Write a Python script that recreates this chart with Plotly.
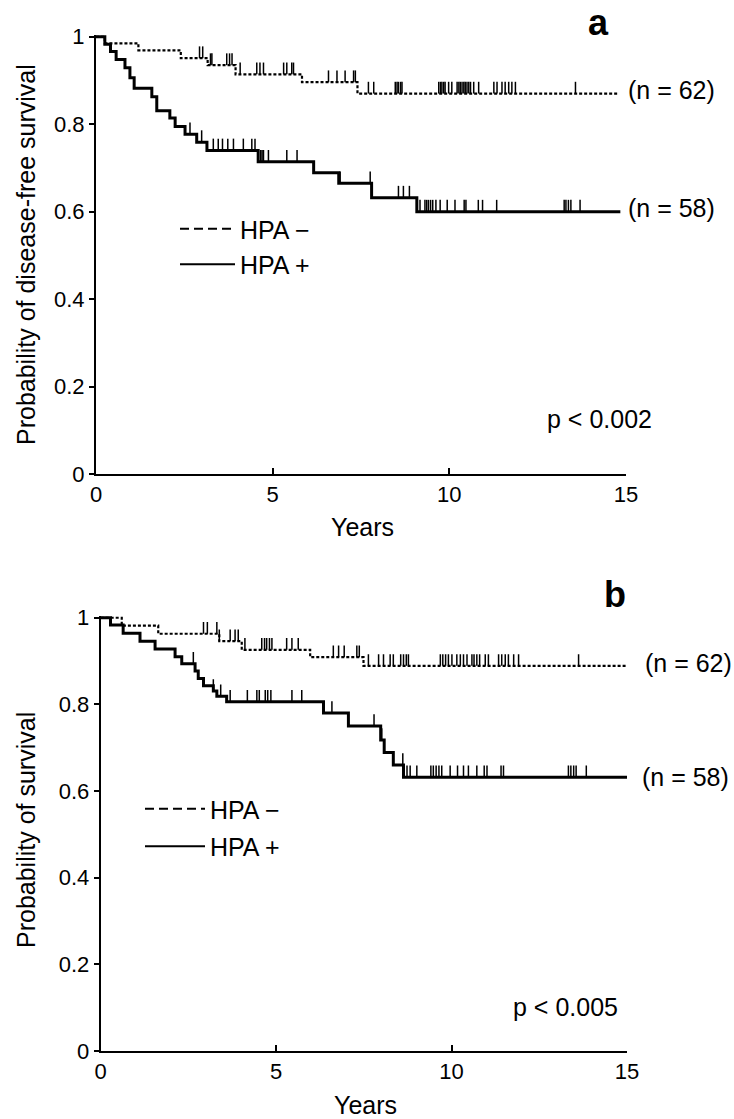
import plotly.graph_objects as go

W, H = 734, 1119
FONT = "Liberation Sans, Arial, Helvetica, sans-serif"

# ---------------- Panel a : disease-free survival ----------------
a_neg_time = [0, 0.25, 1.20, 2.40, 3.16, 3.95, 5.83, 7.40]
a_neg_surv = [1.0, 0.985, 0.969, 0.951, 0.935, 0.914, 0.896, 0.870]
a_neg_end = 14.75
a_neg_cens = [2.93, 3.02, 3.24, 3.28, 3.70, 3.78, 3.85, 4.08, 4.55, 4.64, 4.74,
              5.31, 5.40, 5.54, 5.59, 6.58, 6.82, 7.05, 7.29, 7.34, 7.71, 7.86,
              8.47, 8.52, 8.56, 8.62, 8.66, 9.70, 9.75, 9.79, 9.84, 9.88, 9.98,
              10.07, 10.22, 10.27, 10.31, 10.36, 10.41, 10.45, 10.50, 10.55,
              10.60, 10.69, 10.83, 11.26, 11.35, 11.49, 11.58, 11.68, 11.77,
              11.87, 13.57]

a_pos_time = [0, 0.25, 0.41, 0.57, 0.82, 0.96, 1.08, 1.58, 1.72, 2.09, 2.24,
              2.52, 2.85, 3.14, 4.59, 6.16, 6.87, 7.80, 9.08]
a_pos_surv = [1.0, 0.983, 0.966, 0.948, 0.929, 0.906, 0.882, 0.863, 0.831,
              0.814, 0.795, 0.777, 0.759, 0.740, 0.714, 0.689, 0.665, 0.632, 0.600]
a_pos_end = 14.84
a_pos_cens = [2.66, 2.99, 3.32, 3.46, 3.58, 3.73, 3.89, 4.17, 4.41, 4.50, 4.66,
              4.70, 4.74, 4.88, 5.40, 5.69, 6.91, 7.76, 8.56, 8.70, 8.87, 9.17,
              9.31, 9.36, 9.41, 9.47, 9.53, 9.62, 9.74, 9.94, 10.16, 10.42,
              10.47, 10.82, 10.94, 11.34, 13.25, 13.30, 13.37, 13.44, 13.70]

# ---------------- Panel b : overall survival ----------------
b_neg_time = [0, 0.60, 1.64, 3.38, 4.02, 5.97, 7.49]
b_neg_surv = [1.0, 0.982, 0.963, 0.946, 0.926, 0.909, 0.889]
b_neg_end = 15.0
b_neg_cens = [2.93, 3.04, 3.31, 3.38, 3.69, 3.83, 3.92, 4.11, 4.59, 4.67, 4.73,
              4.81, 4.88, 5.30, 5.45, 5.63, 6.63, 6.78, 6.94, 7.30, 7.37, 7.63,
              7.92, 8.06, 8.25, 8.34, 8.55, 8.63, 8.71, 8.77, 9.68, 9.75, 9.83,
              9.91, 10.01, 10.15, 10.25, 10.34, 10.44, 10.58, 10.64, 10.72,
              10.80, 10.96, 11.05, 11.34, 11.43, 11.53, 11.62, 11.77, 11.91,
              13.62]

b_pos_time = [0, 0.28, 0.64, 1.12, 1.55, 2.12, 2.31, 2.69, 2.78, 2.93, 3.21,
              3.31, 3.59, 6.35, 7.06, 7.98, 8.08, 8.34, 8.63]
b_pos_surv = [1.0, 0.983, 0.964, 0.946, 0.928, 0.910, 0.894, 0.877, 0.860,
              0.843, 0.831, 0.819, 0.806, 0.780, 0.750, 0.718, 0.689, 0.660, 0.632]
b_pos_end = 15.0
b_pos_cens = [2.64, 3.21, 3.42, 3.69, 4.18, 4.45, 4.52, 4.69, 4.76, 4.85, 5.45,
              5.73, 6.59, 7.79, 8.01, 8.61, 8.73, 8.82, 9.01, 9.41, 9.48, 9.56,
              9.64, 9.72, 9.96, 10.17, 10.34, 10.48, 10.72, 10.93, 11.01, 11.41,
              11.48, 13.33, 13.40, 13.48, 13.55, 13.84]

x_ticks = [0, 5, 10, 15]
y_ticks = [0, 0.2, 0.4, 0.6, 0.8, 1]
y_ticktext = ["0", "0.2", "0.4", "0.6", "0.8", "1"]
group_labels = ["HPA \u2212", "HPA +"]
n_labels = ["(n = 62)", "(n = 58)"]
p_labels = ["p < 0.002", "p < 0.005"]
y_titles = ["Probability of disease-free survival", "Probability of survival"]
panel_letters = ["a", "b"]


def step_xy(times, surv, end):
    return list(times) + [end], list(surv) + [surv[-1]]


def censor_xy(times, surv, cens, d=0.027):
    xs, ys = [], []
    for c in cens:
        idx = max(i for i, t in enumerate(times) if t <= c)
        s = surv[idx]
        xs += [c, c, None]
        ys += [s, s + d, None]
    return xs, ys


fig = go.Figure()

panels = [
    dict(xa="x", ya="y", leg="legend",
         neg=(a_neg_time, a_neg_surv, a_neg_end, a_neg_cens),
         pos=(a_pos_time, a_pos_surv, a_pos_end, a_pos_cens)),
    dict(xa="x2", ya="y2", leg="legend2",
         neg=(b_neg_time, b_neg_surv, b_neg_end, b_neg_cens),
         pos=(b_pos_time, b_pos_surv, b_pos_end, b_pos_cens)),
]

for p in panels:
    for key, dash, width, lab in [("neg", "3px,2px", 2.2, group_labels[0]),
                                  ("pos", "solid", 3, group_labels[1])]:
        t, s, e, c = p[key]
        x, y = step_xy(t, s, e)
        fig.add_trace(go.Scatter(x=x, y=y, mode="lines", line_shape="hv",
                                 line=dict(color="black", width=width, dash=dash),
                                 xaxis=p["xa"], yaxis=p["ya"], showlegend=False,
                                 hoverinfo="skip"))
        cx, cy = censor_xy(t, s, c)
        fig.add_trace(go.Scatter(x=cx, y=cy, mode="lines",
                                 line=dict(color="black", width=1.5),
                                 xaxis=p["xa"], yaxis=p["ya"], showlegend=False,
                                 hoverinfo="skip"))
        # legend sample
        fig.add_trace(go.Scatter(x=[None], y=[None], mode="lines", name=lab,
                                 line=dict(color="black", width=2,
                                           dash="9px,5px" if key == "neg" else "solid"),
                                 xaxis=p["xa"], yaxis=p["ya"], legend=p["leg"],
                                 legendgroup=p["leg"] + key, showlegend=True))


def px_x(px):
    return px / W


def px_y(py):
    return 1 - py / H


axis_common = dict(showline=True, linecolor="black", linewidth=2, showgrid=False,
                   zeroline=False, tickfont=dict(family=FONT, size=22, color="black"),
                   tickcolor="black", tickwidth=2)

fig.update_layout(
    width=W, height=H, paper_bgcolor="white", plot_bgcolor="white",
    margin=dict(l=0, r=0, t=0, b=0, autoexpand=False),
    font=dict(family=FONT, color="black"),
    xaxis=dict(domain=[px_x(96), px_x(626)], range=[0, 15], anchor="y",
               tickvals=x_ticks, ticks="inside", ticklen=6, **axis_common),
    yaxis=dict(domain=[px_y(474), px_y(35)], range=[0, 1.004], anchor="x",
               tickvals=y_ticks, ticktext=y_ticktext, ticks="outside", ticklen=5,
               **axis_common),
    xaxis2=dict(domain=[px_x(100.7), px_x(627)], range=[0, 15], anchor="y2",
                tickvals=x_ticks, ticks="inside", ticklen=6, **axis_common),
    yaxis2=dict(domain=[px_y(1051), px_y(616)], range=[0, 1.004], anchor="x2",
                tickvals=y_ticks, ticktext=y_ticktext, ticks="outside", ticklen=5,
                **axis_common),
    legend=dict(x=px_x(175), y=px_y(206), xanchor="left", yanchor="top",
                bgcolor="rgba(0,0,0,0)", font=dict(family=FONT, size=25),
                tracegroupgap=0, itemwidth=55),
    legend2=dict(x=px_x(140), y=px_y(786), xanchor="left", yanchor="top",
                 bgcolor="rgba(0,0,0,0)", font=dict(family=FONT, size=25),
                 tracegroupgap=2, itemwidth=60),
)

ann = []
# (n = ..) labels
for (x, y, txt) in [(626, 90, n_labels[0]), (626, 208, n_labels[1]),
                    (643, 663, n_labels[0]), (640, 777, n_labels[1])]:
    ann.append(dict(x=px_x(x), y=px_y(y), xref="paper", yref="paper", text=txt,
                    showarrow=False, xanchor="left", yanchor="middle",
                    font=dict(family=FONT, size=25)))
# p values
for (x, y, txt) in [(545, 419, p_labels[0]), (511, 1007, p_labels[1])]:
    ann.append(dict(x=px_x(x), y=px_y(y), xref="paper", yref="paper", text=txt,
                    showarrow=False, xanchor="left", yanchor="middle",
                    font=dict(family=FONT, size=25)))
# panel letters
for (x, y, txt) in [(598, 22, panel_letters[0]), (615, 595, panel_letters[1])]:
    ann.append(dict(x=px_x(x), y=px_y(y), xref="paper", yref="paper",
                    text="<b>%s</b>" % txt, showarrow=False, xanchor="center",
                    yanchor="middle", font=dict(family=FONT, size=36)))
# y titles
for (x, y, txt) in [(26, 255, y_titles[0]), (26, 830, y_titles[1])]:
    ann.append(dict(x=px_x(x), y=px_y(y), xref="paper", yref="paper", text=txt,
                    showarrow=False, textangle=-90, xanchor="center",
                    yanchor="middle", font=dict(family=FONT, size=25)))
# x titles
for (x, y) in [(362, 527), (365, 1105)]:
    ann.append(dict(x=px_x(x), y=px_y(y), xref="paper", yref="paper", text="Years",
                    showarrow=False, xanchor="center", yanchor="middle",
                    font=dict(family=FONT, size=25)))
fig.update_layout(annotations=ann)

fig.write_html("out.html",
               config={"displayModeBar": False, "staticPlot": True},
               post_script="document.body.style.margin='0';"
                           "document.body.style.overflow='hidden';")
